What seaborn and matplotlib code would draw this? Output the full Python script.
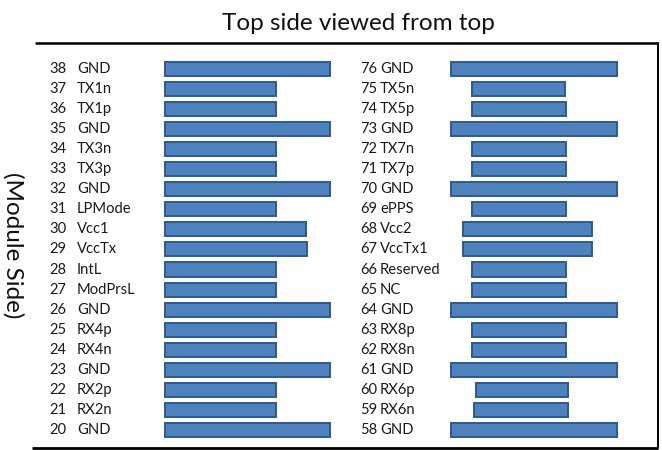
import matplotlib
matplotlib.use("Agg")
import matplotlib.pyplot as plt
import seaborn as sns
import numpy as np

sns.set_theme(style="white")
plt.rcParams['font.family'] = ['Lato', 'DejaVu Sans']

# ---- data ----
left_pins = [38, 37, 36, 35, 34, 33, 32, 31, 30, 29, 28, 27, 26, 25, 24, 23, 22, 21, 20]
left_names = ["GND", "TX1n", "TX1p", "GND", "TX3n", "TX3p", "GND", "LPMode", "Vcc1",
              "VccTx", "IntL", "ModPrsL", "GND", "RX4p", "RX4n", "GND", "RX2p", "RX2n", "GND"]
left_start = [165] * 19
left_end = [330, 276, 276, 330, 276, 276, 330, 276, 306, 307, 276, 276, 330, 276, 276, 330, 276, 276, 330]

right_pins = [76, 75, 74, 73, 72, 71, 70, 69, 68, 67, 66, 65, 64, 63, 62, 61, 60, 59, 58]
right_names = ["GND", "TX5n", "TX5p", "GND", "TX7n", "TX7p", "GND", "ePPS", "Vcc2",
               "VccTx1", "Reserved", "NC", "GND", "RX8p", "RX8n", "GND", "RX6p", "RX6n", "GND"]
right_start = [451, 472, 472, 451, 472, 472, 451, 472, 463, 463, 472, 472, 451, 472, 472, 451, 476, 474, 451]
right_end = [617, 565, 566, 617, 566, 566, 617, 566, 592, 592, 566, 566, 617, 566, 566, 617, 568, 568, 617]

title = "Top side viewed from top"
side_label = "(Module Side)"

# ---- figure ----
W, H = 662, 450
fig = plt.figure(figsize=(W / 100, H / 100), dpi=100)
ax = fig.add_axes([0, 0, 1, 1])
row0, pitch = 69.0, 20.05
ax.set_xlim(0, W)
ax.set_ylim((H - row0) / pitch, -row0 / pitch)
ax.axis("off")

face = "#4F81BD"
edge = "#2E5A8E"
rows = np.arange(len(left_pins))

for starts, ends in ((left_start, left_end), (right_start, right_end)):
    s = np.array(starts)
    e = np.array(ends)
    ax.barh(rows, e - s, left=s, height=0.7, color=face, edgecolor=edge, linewidth=1.4)

fs = 10.6
tc = "#1a1a1a"
for r, p, n in zip(rows, left_pins, left_names):
    ax.text(49, r, str(p), ha="left", va="center", fontsize=fs, color=tc)
    ax.text(77, r, n, ha="left", va="center", fontsize=fs, color=tc)
for r, p, n in zip(rows, right_pins, right_names):
    ax.text(360, r, str(p), ha="left", va="center", fontsize=fs, color=tc)
    ax.text(380, r, n, ha="left", va="center", fontsize=fs, color=tc)

# frame
def py(y):
    return (y - row0) / pitch

ax.plot([35, 658], [py(43), py(43)], color="black", lw=1.8, solid_capstyle="butt")
ax.plot([658, 658], [py(43), py(448)], color="black", lw=1.4)
ax.plot([32, 658], [py(448), py(448)], color="black", lw=2.0, solid_capstyle="butt")

ax.text(358, py(23), title, ha="center", va="center", fontsize=17.5, color="#111111")
ax.text(13, py(245), side_label, ha="center", va="center", rotation=270, fontsize=17.5, color="#111111")

fig.savefig("out.png", dpi=100)
